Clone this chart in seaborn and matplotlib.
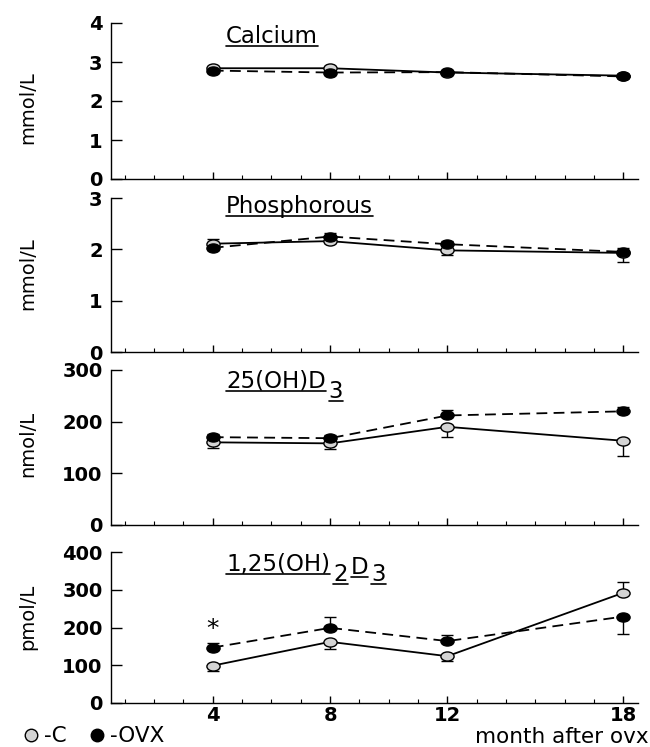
import numpy as np
import pandas as pd
import matplotlib
matplotlib.use('Agg')
import matplotlib.pyplot as plt
import seaborn as sns
from matplotlib.lines import Line2D
from matplotlib.path import Path
from matplotlib.ticker import MultipleLocator, FixedLocator

# months after ovariectomy
months = [4, 8, 12, 18]

# Calcium (mmol/L)
ca_c = [2.84, 2.84, 2.73, 2.65]
ca_c_lo = [0.03, 0.03, 0.02, 0.03]
ca_c_hi = [0.03, 0.04, 0.02, 0.03]
ca_ovx = [2.78, 2.73, 2.74, 2.63]
ca_ovx_lo = [0.03, 0.04, 0.02, 0.03]
ca_ovx_hi = [0.02, 0.02, 0.02, 0.02]

# Phosphorous (mmol/L)
p_c = [2.11, 2.16, 1.98, 1.93]
p_c_lo = [0.03, 0.04, 0.10, 0.17]
p_c_hi = [0.10, 0.04, 0.03, 0.10]
p_ovx = [2.03, 2.25, 2.10, 1.95]
p_ovx_lo = [0.04, 0.03, 0.03, 0.03]
p_ovx_hi = [0.03, 0.06, 0.06, 0.03]

# 25(OH)D3 (nmol/L)
d25_c = [160, 158, 190, 163]
d25_c_lo = [10, 10, 20, 30]
d25_c_hi = [0, 0, 0, 0]
d25_ovx = [170, 168, 212, 220]
d25_ovx_lo = [0, 0, 0, 0]
d25_ovx_hi = [6, 6, 10, 8]

# 1,25(OH)2D3 (pmol/L)
d125_c = [99, 162, 124, 292]
d125_c_lo = [13, 20, 13, 0]
d125_c_hi = [0, 0, 0, 28]
d125_ovx = [147, 199, 164, 229]
d125_ovx_lo = [0, 0, 0, 45]
d125_ovx_hi = [11, 30, 17, 0]

sns.set_style('ticks')
plt.rcParams['font.family'] = ['DejaVu Sans']
plt.rcParams['mathtext.fontset'] = 'dejavusans'
for k in ['text.color', 'axes.labelcolor', 'xtick.color', 'ytick.color', 'axes.edgecolor']:
    plt.rcParams[k] = 'black'

W, H = 650, 747
fig = plt.figure(figsize=(W / 100, H / 100), dpi=100)

# ellipse marker (scan is stretched horizontally)
circ = Path.unit_circle()
ellipse = Path(circ.vertices * np.array([1.45, 1.0]), circ.codes)

panels = [
    dict(top=23, bot=179, ymax=4, step=1, ylabel='mmol/L', ly=0.46,
         c=(ca_c, ca_c_lo, ca_c_hi), o=(ca_ovx, ca_ovx_lo, ca_ovx_hi),
         title=[('Calcium', 0)], tb=43),
    dict(top=198, bot=352, ymax=3, step=1, ylabel='mmol/L', ly=0.51,
         c=(p_c, p_c_lo, p_c_hi), o=(p_ovx, p_ovx_lo, p_ovx_hi),
         title=[('Phosphorous', 0)], tb=213),
    dict(top=370, bot=525, ymax=300, step=100, ylabel='nmol/L', ly=0.52,
         c=(d25_c, d25_c_lo, d25_c_hi), o=(d25_ovx, d25_ovx_lo, d25_ovx_hi),
         title=[('25(OH)D', 0), ('3', 10)], tb=388),
    dict(top=552, bot=703, ymax=400, step=100, ylabel='pmol/L', ly=0.57,
         c=(d125_c, d125_c_lo, d125_c_hi), o=(d125_ovx, d125_ovx_lo, d125_ovx_hi),
         title=[('1,25(OH)', 0), ('2', 10), ('D', 3), ('3', 10)], tb=571),
]

left, right = 111, 638
axes = []
for i, p in enumerate(panels):
    ax = fig.add_axes([left / W, 1 - p['bot'] / H, (right - left) / W, (p['bot'] - p['top']) / H])
    axes.append(ax)

    for key, ls, face in [('c', '-', '#d4d4d4'), ('o', (0, (6, 3.5)), 'black')]:
        vals, lo, hi = p[key]
        df = pd.DataFrame({'month': months, 'value': vals})
        ax.errorbar(months, vals, yerr=[lo, hi], fmt='none', ecolor='black',
                    elinewidth=1, capsize=4, capthick=1, zorder=2)
        sns.lineplot(data=df, x='month', y='value', ax=ax, color='black', lw=1.3,
                     linestyle=ls, marker=ellipse, ms=9.5, mfc=face, mec='black',
                     mew=1, errorbar=None, zorder=3)

    ax.set_xlim(0.53, 18.5)
    ax.set_ylim(0, p['ymax'])
    ax.set_yticks(np.arange(0, p['ymax'] + p['step'] / 2, p['step']))
    ax.xaxis.set_major_locator(FixedLocator(months))
    ax.xaxis.set_minor_locator(MultipleLocator(1))
    ax.tick_params(axis='x', which='major', direction='in', length=5, width=1,
                   labelsize=14, pad=2.5)
    ax.tick_params(axis='x', which='minor', direction='in', length=3, width=0.8)
    ax.tick_params(axis='y', direction='in', length=8, width=1, labelsize=14, pad=6)
    for lab in ax.get_xticklabels() + ax.get_yticklabels():
        lab.set_fontweight('bold')
    ax.set_xlabel('')
    ax.set_ylabel(p['ylabel'], fontsize=14)
    ax.yaxis.set_label_coords(-0.14, p['ly'])
    sns.despine(ax=ax)
    for s in ['left', 'bottom']:
        ax.spines[s].set_linewidth(1)
    if i < 3:
        ax.tick_params(axis='x', labelbottom=False)

# significance mark
axes[3].text(4, 196, '*', ha='center', va='center', fontsize=18)

# underlined panel titles built from pieces (subscripts dropped)
renderer = fig.canvas.get_renderer()
for p in panels:
    x = 226
    for s, drop in p['title']:
        yb = p['tb'] + drop
        t = fig.text(x / W, 1 - yb / H, s, fontsize=16.5, ha='left', va='baseline')
        bb = t.get_window_extent(renderer)
        uy = 1 - (yb + 3) / H
        fig.add_artist(Line2D([bb.x0 / W, bb.x1 / W], [uy, uy], color='black',
                              lw=1.2, transform=fig.transFigure))
        x = bb.x1 + 3

fig.text(0.998, 0.006, 'month after ovx', fontsize=15.5, ha='right', va='baseline')

handles = [Line2D([], [], ls='none', marker='o', ms=9, mfc='#d4d4d4', mec='black', mew=1),
           Line2D([], [], ls='none', marker='o', ms=9, mfc='black', mec='black')]
fig.legend(handles, ['-C', '-OVX'], loc='lower left', bbox_to_anchor=(0.035, 0.001),
           ncol=2, frameon=False, handlelength=0.8, handletextpad=0.2,
           columnspacing=1.0, fontsize=15.5, borderpad=0, borderaxespad=0)

fig.savefig('out.png', dpi=100)
